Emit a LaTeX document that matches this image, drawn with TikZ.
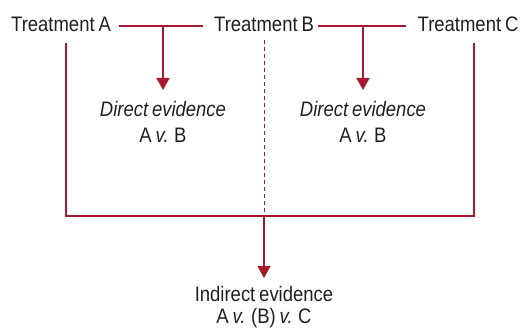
\documentclass[tikz,border=0pt]{standalone}
\usepackage{fontspec}
\setmainfont[FakeStretch=0.88,WordSpace=0.75]{Liberation Sans}
\usetikzlibrary{arrows.meta}
\definecolor{crim}{RGB}{166,25,46}
\definecolor{ink}{RGB}{35,31,32}
\tikzset{
  lbl/.style={anchor=base, inner sep=0pt, text=ink, font=\fontsize{21}{25}\selectfont},
  link/.style={draw=crim, line width=1.3pt},
  arr/.style={link, -{Triangle[width=13pt,length=12pt]}},
  dash line/.style={draw=crim, line width=1pt, dash pattern=on 4pt off 3pt}
}
\begin{document}
\begin{tikzpicture}[x=1pt,y=-1pt]
\useasboundingbox (0,0) rectangle (521,328);
% labels
\node[lbl] (TA) at (61,32) {Treatment A};
\node[lbl] (TB) at (264,32) {Treatment B};
\node[lbl] (TC) at (468,32) {Treatment C};
\node[lbl, font=\fontsize{21}{25}\selectfont\itshape] (D1) at (163,117) {Direct evidence};
\node[lbl] (D1b) at (163,143) {A \textit{v.} B};
\node[lbl, font=\fontsize{21}{25}\selectfont\itshape] (D2) at (363,117) {Direct evidence};
\node[lbl] (D2b) at (363,143) {A \textit{v.} B};
\node[lbl] (IE) at (264,301) {Indirect evidence};
\node[lbl] (IEb) at (264,323) {A \textit{v.} (B) \textit{v.} C};
% junction coordinates
\coordinate (a1) at (119,26);
\coordinate (a2) at (203,26);
\coordinate (b1) at (318,26);
\coordinate (b2) at (406,26);
\coordinate (jA) at (163,26);
\coordinate (jB) at (363,26);
\coordinate (lt) at (66,43);
\coordinate (lb) at (66,216);
\coordinate (rt) at (474,43);
\coordinate (rb) at (474,216);
\coordinate (mt) at (264,40);
\coordinate (mb) at (264,216);
% connectors
\draw[link] (a1) -- (a2);
\draw[link] (b1) -- (b2);
\draw[arr] (jA) -- ([yshift=27pt]D1.base);
\draw[arr] (jB) -- ([yshift=27pt]D2.base);
\draw[link] (lt) -- (lb) -- (rb) -- (rt);
\draw[dash line] (mt) -- (mb);
\draw[arr] (mb) -- ([yshift=23pt]IE.base);
\end{tikzpicture}
\end{document}
